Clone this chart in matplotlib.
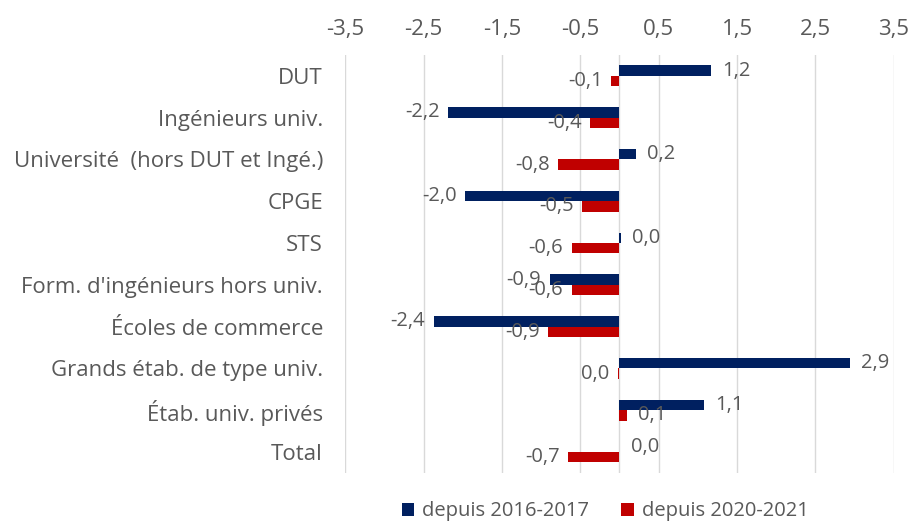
import numpy as np
import matplotlib.pyplot as plt

plt.rcParams['font.family'] = ['Open Sans', 'DejaVu Sans']

categories = ["DUT", "Ingénieurs univ.", "Université  (hors DUT et Ingé.)", "CPGE", "STS",
              "Form. d'ingénieurs hors univ.", "Écoles de commerce",
              "Grands étab. de type univ.", "Étab. univ. privés", "Total"]
since_2016 = [1.17, -2.19, 0.21, -1.97, 0.02, -0.89, -2.37, 2.94, 1.08, 0.0]
since_2020 = [-0.11, -0.37, -0.78, -0.48, -0.61, -0.61, -0.91, -0.025, 0.10, -0.66]
series_names = ["depuis 2016-2017", "depuis 2020-2021"]
xticks = np.arange(-3.5, 3.6, 1.0)

navy = "#002060"
red = "#C00000"
grey = "#595959"


def fmt(v):
    s = "%.1f" % v
    if s in ("-0.0", "0.0"):
        s = "0.0"
    return s.replace(".", ",")


fig = plt.figure(figsize=(9.13, 5.23), dpi=100)
ax = fig.add_axes([0.378, 0.096, 0.601, 0.799])

y = np.arange(len(categories))
h = 0.25
ax.barh(y - h / 2, since_2016, height=h, color=navy, label=series_names[0], zorder=3)
ax.barh(y + h / 2, since_2020, height=h, color=red, label=series_names[1], zorder=3)

for vals, off in [(since_2016, -h / 2), (since_2020, h / 2)]:
    for i, v in enumerate(vals):
        if v >= 0:
            ax.annotate(fmt(v), (v, i + off), xytext=(8, 0), textcoords="offset points",
                        ha="left", va="center", fontsize=14.5, color=grey, zorder=4)
        else:
            ax.annotate(fmt(v), (v, i + off), xytext=(-6, 0), textcoords="offset points",
                        ha="right", va="center", fontsize=14.5, color=grey, zorder=4)

ax.set_xlim(-3.5, 3.5)
ax.set_ylim(len(categories) - 0.5, -0.5)
ax.set_xticks(xticks)
ax.set_xticklabels([("%.1f" % t).replace(".", ",") for t in xticks])
ax.xaxis.tick_top()
ax.set_yticks(y)
ax.set_yticklabels(categories)
ax.tick_params(axis="both", length=0, colors=grey)
ax.tick_params(axis="x", pad=11, labelsize=16)
ax.tick_params(axis="y", pad=16, labelsize=16)
ax.grid(axis="x", color="#d9d9d9", linewidth=1, zorder=0)
ax.axvline(0, color="#d9d9d9", linewidth=1, zorder=1)
for sp in ax.spines.values():
    sp.set_visible(False)

leg = fig.legend(loc="center", bbox_to_anchor=(0.663, 0.022), ncol=2, frameon=False,
                 fontsize=14.5, handlelength=0.6, handleheight=0.6, handletextpad=0.4,
                 columnspacing=1.6)
for t in leg.get_texts():
    t.set_color(grey)

fig.savefig("out.png", dpi=100)
